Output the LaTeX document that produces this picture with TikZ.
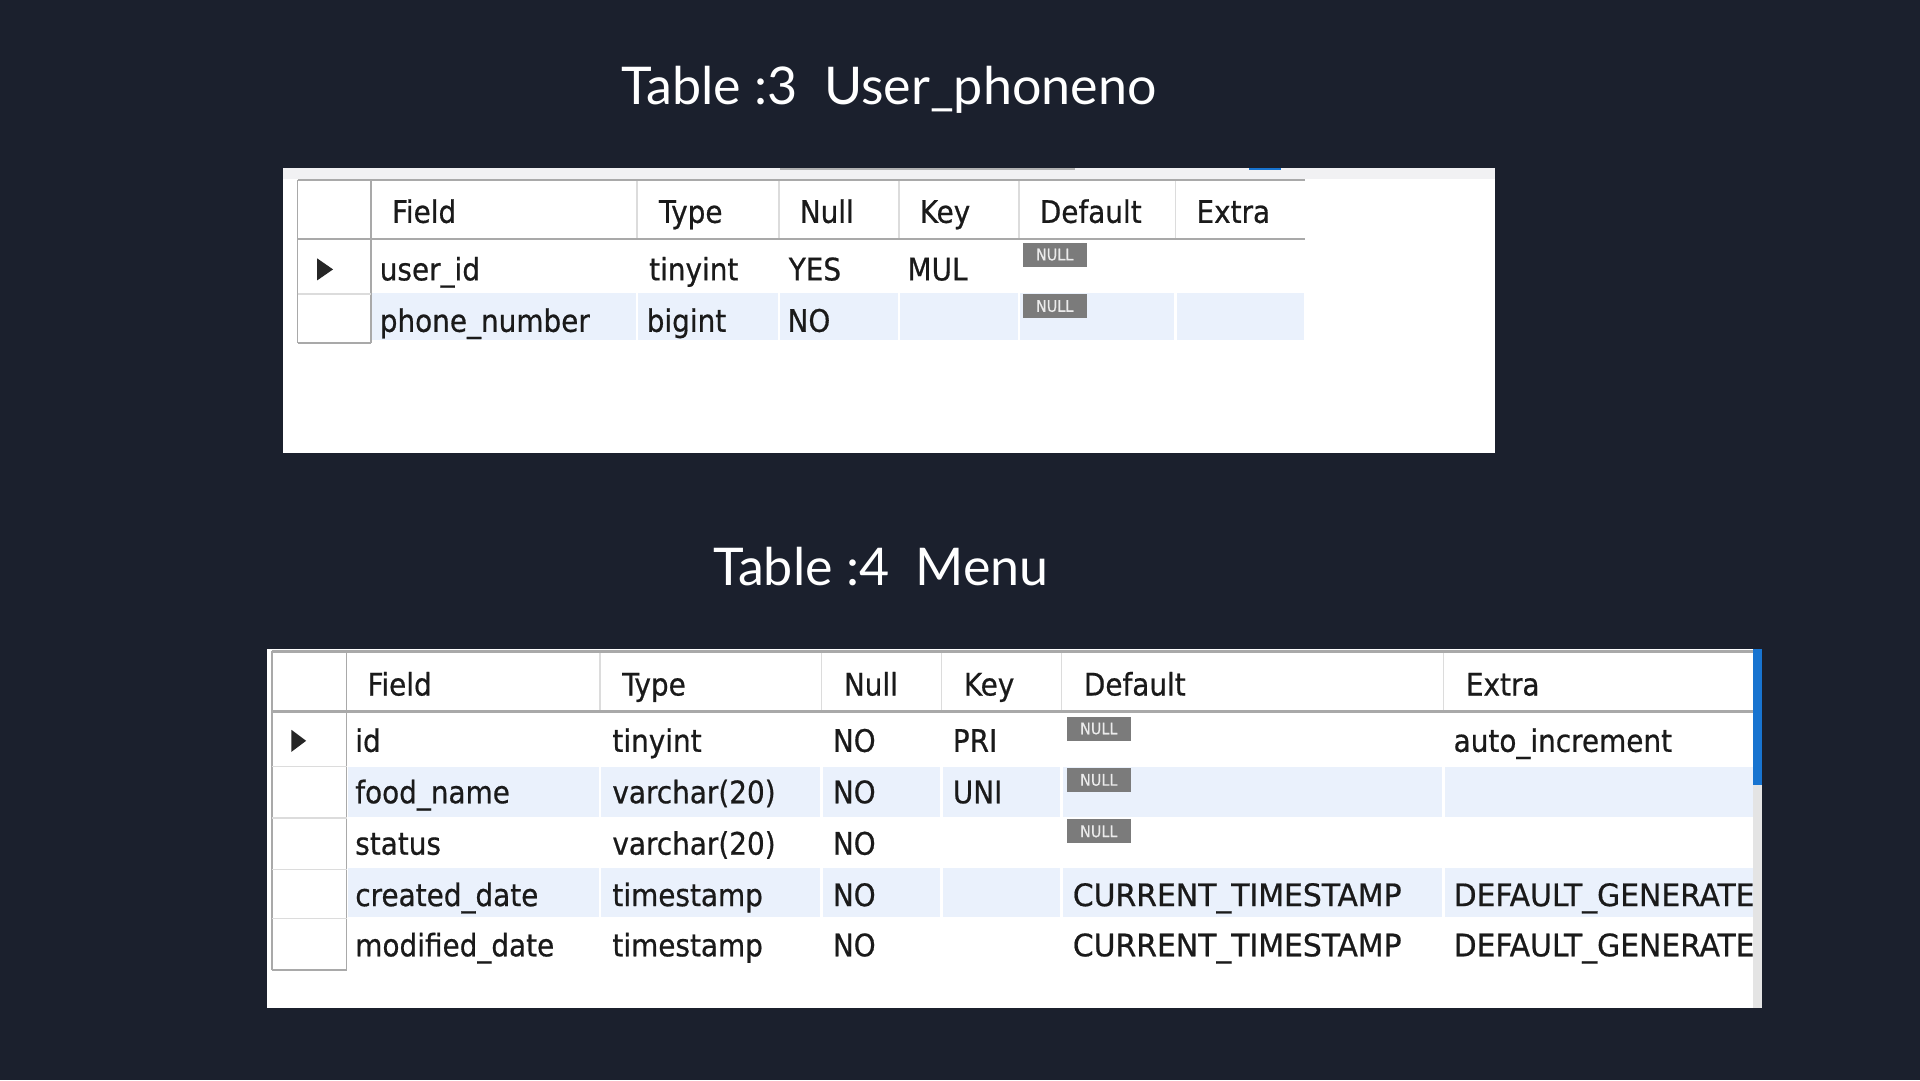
\documentclass[tikz,border=0pt]{standalone}
\usepackage{fontspec}
\setmainfont{Lato}
\newfontfamily\tabfont[FakeBold=0.6]{DejaVu Sans Condensed}
\definecolor{bgc}{HTML}{1B202D}
\definecolor{rowblue}{HTML}{EAF1FC}
\definecolor{hline}{HTML}{A9A9A9}
\definecolor{vline}{HTML}{DCDCDC}
\definecolor{badge}{HTML}{7B7B7B}
\definecolor{txt}{HTML}{1A1A1A}
\definecolor{strip}{HTML}{F1F1F3}
\definecolor{wbblue}{HTML}{1874D0}
\definecolor{track}{HTML}{E4E4E4}
\newcommand\wider[1]{\scalebox{1.07}[1]{#1}}
\begin{document}
\begin{tikzpicture}[x=1.2245pt,y=-1.2245pt,
  title/.style={font=\fontsize{52}{60}\selectfont, text=white, inner sep=0pt},
  cell/.style={font=\tabfont\fontsize{31}{36}\selectfont, text=txt, anchor=west, inner sep=0pt, text height=24pt, text depth=8pt, yshift=-3pt},
  nullbadge/.style={fill=badge, text=white!92!black, font=\tabfont\fontsize{16}{16}\selectfont, anchor=north west, inner sep=0pt, minimum width=64pt, minimum height=24pt},
  hdr/.style={draw=hline, line width=2.2pt},
  sep/.style={draw=vline, line width=1.6pt},
  gap/.style={draw=white, line width=2.4pt},
  marker/.style={fill=black!85}]
\useasboundingbox (0,0) rectangle (1568,882);
\fill[bgc] (0,0) rectangle (1568,882);

% ---------- Titles ----------
\node[title, yshift=-3pt] (title3) at (726,71) {Table :3\ \ User\_phoneno};
\node[title] (title4) at (719.5,463) {Table :4\ \ Menu};

% ---------- Table 3 ----------
\fill[white] (231,137) rectangle (1221,370);
\fill[strip] (231,137) rectangle (1221,146);
\fill[black!30] (637,137) rectangle (878,139);
\fill[wbblue] (1020,137) rectangle (1046,138.5);
% blue row 2
\fill[rowblue] (304,239) rectangle (1065,278);
\foreach \x in {520,636,734,832,960} \draw[gap] (\x,239) -- (\x,278);
% header
\foreach \x in {520,636,734,832,960} \draw[sep] (\x,147) -- (\x,195);
\draw[hdr] (243,147) -- (1066,147);
\draw[hdr] (243,195) -- (1066,195);
\draw[draw=hline, line width=1.6pt] (243,147) -- (243,280);
\draw[draw=hline, line width=1.6pt] (303,147) -- (303,280);
\draw[sep] (243,240) -- (303,240);
\draw[draw=hline, line width=1.6pt] (243,280) -- (303,280);
\fill[marker] (259,211) -- (272,220) -- (259,229) -- cycle;
% header text
\node[cell] (t3hField) at (320,173) {Field};
\node[cell] (t3hType) at (538,173) {Type};
\node[cell] (t3hNull) at (653,173) {Null};
\node[cell] (t3hKey) at (751,173) {Key};
\node[cell] (t3hDef) at (849,173) {Default};
\node[cell] (t3hExtra) at (977,173) {Extra};
% rows
\node[cell] (t3r1a) at (310,220) {user\_id};
\node[cell] (t3r1b) at (530,220) {tinyint};
\node[cell] (t3r1c) at (644,220) {YES};
\node[cell] (t3r1d) at (741,220) {MUL};
\node[nullbadge] (t3r1e) at (835,198) {NULL};
\node[cell] (t3r2a) at (310,262) {phone\_number};
\node[cell] (t3r2b) at (528,262) {bigint};
\node[cell] (t3r2c) at (643,262) {NO};
\node[nullbadge] (t3r2e) at (835,240) {NULL};

% ---------- Table 4 ----------
\fill[white] (218,530) rectangle (1439,823);
\fill[rowblue] (284,626) rectangle (1432,667);
\fill[rowblue] (284,709) rectangle (1432,749);
\foreach \x in {490,671,769,867,1179} {
  \draw[gap] (\x,626) -- (\x,667);
  \draw[gap] (\x,709) -- (\x,749);
}
\foreach \x in {490,671,769,867,1179} \draw[sep] (\x,532) -- (\x,581);
\draw[hdr] (222,532) -- (1432,532);
\draw[hdr] (222,581) -- (1432,581);
\draw[draw=hline, line width=1.6pt] (222,532) -- (222,792);
\draw[draw=hline, line width=1.6pt] (283,532) -- (283,792);
\foreach \y in {626,668,710,750} \draw[sep] (222,\y) -- (283,\y);
\draw[draw=hline, line width=1.6pt] (222,792) -- (283,792);
\fill[marker] (238,596) -- (250,605) -- (238,614) -- cycle;
% scrollbar
\fill[wbblue] (1432,530) rectangle (1439,641);
\fill[track] (1432,641) rectangle (1439,823);
% header text
\node[cell] (t4hField) at (300,559) {Field};
\node[cell] (t4hType) at (508,559) {Type};
\node[cell] (t4hNull) at (689,559) {Null};
\node[cell] (t4hKey) at (787,559) {Key};
\node[cell] (t4hDef) at (885,559) {Default};
\node[cell] (t4hExtra) at (1197,559) {Extra};
% rows
\node[cell] (t4r1a) at (290,605) {id};
\node[cell] (t4r1b) at (500,605) {tinyint};
\node[cell] (t4r1c) at (680,605) {NO};
\node[cell] (t4r1d) at (778,605) {PRI};
\node[nullbadge] (t4r1e) at (871,585) {NULL};
\node[cell] (t4r1f) at (1187,605) {auto\_increment};
\node[cell] (t4r2a) at (290,647) {food\_name};
\node[cell] (t4r2b) at (500,647) {varchar(20)};
\node[cell] (t4r2c) at (680,647) {NO};
\node[cell] (t4r2d) at (778,647) {UNI};
\node[nullbadge] (t4r2e) at (871,627) {NULL};
\node[cell] (t4r3a) at (290,689) {status};
\node[cell] (t4r3b) at (500,689) {varchar(20)};
\node[cell] (t4r3c) at (680,689) {NO};
\node[nullbadge] (t4r3e) at (871,669) {NULL};
\node[cell] (t4r4a) at (290,731) {created\_date};
\node[cell] (t4r4b) at (500,731) {timestamp};
\node[cell] (t4r4c) at (680,731) {NO};
\node[cell] (t4r4e) at (876,731) {\wider{CURRENT\_TIMESTAMP}};
\node[cell] (t4r5a) at (290,772) {modified\_date};
\node[cell] (t4r5b) at (500,772) {timestamp};
\node[cell] (t4r5c) at (680,772) {NO};
\node[cell] (t4r5e) at (876,772) {\wider{CURRENT\_TIMESTAMP}};
\begin{scope}
  \clip (1180,700) rectangle (1432,800);
  \node[cell] (t4r4f) at (1187,731) {\wider{DEFAULT\_GENERATED}};
  \node[cell] (t4r5f) at (1187,772) {\wider{DEFAULT\_GENERATED}};
\end{scope}
\end{tikzpicture}
\end{document}
